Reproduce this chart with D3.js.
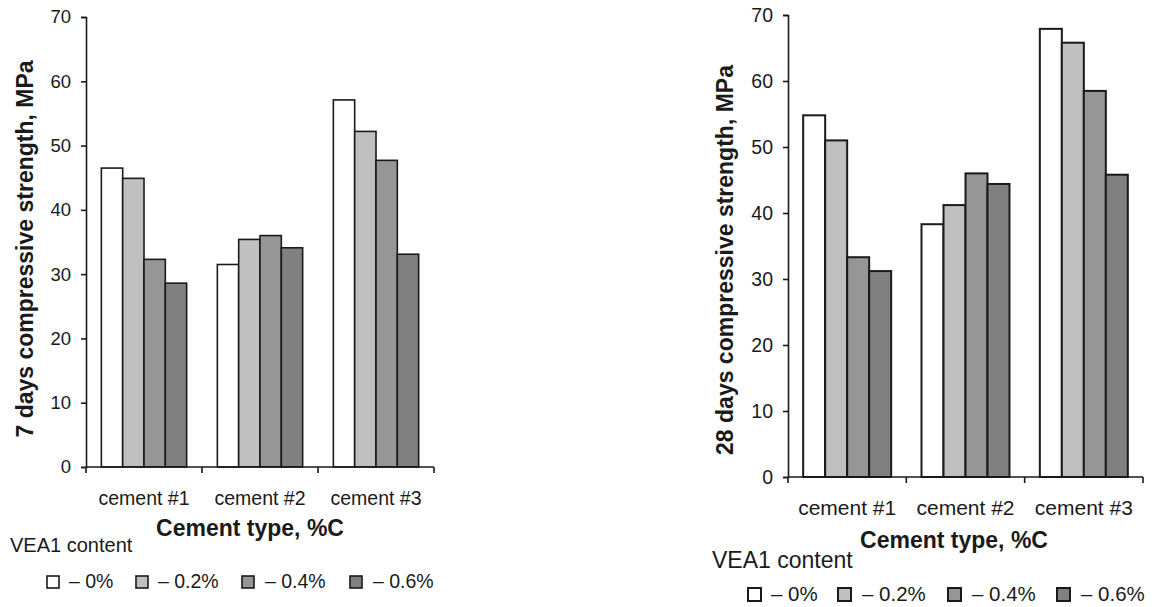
<html>
<head>
<meta charset="utf-8" />
<title>Compressive strength</title>
<script src="https://cdn.jsdelivr.net/npm/d3@7"></script>
<style>
body { margin: 0; background: #fff; }
text { font-family: "Liberation Sans", Arial, sans-serif; fill: #1a1a1a; }
</style>
</head>
<body>
<script>

var categories = ["cement #1", "cement #2", "cement #3"];
var series = ["0%", "0.2%", "0.4%", "0.6%"];
var legendLabels = ["\u2013 0%", "\u2013 0.2%", "\u2013 0.4%", "\u2013 0.6%"];
var fills = ["#ffffff", "#c0c0c0", "#969696", "#808080"];
var yTicks = [0, 10, 20, 30, 40, 50, 60, 70];

// rows = cement, columns = VEA1 content
var strength7 = [
	[46.5, 44.9, 32.3, 28.6],
	[31.5, 35.4, 36.0, 34.1],
	[57.1, 52.2, 47.7, 33.1]
];
var strength28 = [
	[54.8, 51.0, 33.3, 31.2],
	[38.3, 41.2, 46.0, 44.4],
	[67.9, 65.8, 58.5, 45.8]
];

var svg = d3.select("body").append("svg")
	.attr("width", 1152)
	.attr("height", 607);

function drawChart(opt, data) {
	var g = svg.append("g");

	var x0 = d3.scaleBand().domain(categories).range([opt.left, opt.right]);
	var x1 = d3.scaleBand().domain(series).range([0, x0.bandwidth()]).paddingOuter(opt.pad);
	var y = d3.scaleLinear().domain([0, 70]).range([opt.bottom, opt.top]);

	// bars
	categories.forEach(function(c, ci) {
		g.selectAll(null)
			.data(series)
			.enter().append("rect")
			.attr("x", function(s) { return x0(c) + x1(s); })
			.attr("y", function(s, si) { return y(data[ci][si]); })
			.attr("width", x1.bandwidth())
			.attr("height", function(s, si) { return y(0) - y(data[ci][si]); })
			.attr("fill", function(s, si) { return fills[si]; })
			.attr("stroke", "#1a1a1a")
			.attr("stroke-width", opt.sw);
	});

	// y axis
	var yAxis = g.append("g")
		.attr("transform", "translate(" + opt.left + ",0)")
		.call(d3.axisLeft(y).tickValues(yTicks).tickSize(5).tickPadding(10));
	yAxis.select(".domain").attr("stroke", "#1a1a1a").attr("stroke-width", 1.6);
	yAxis.selectAll(".tick line").attr("stroke", "#1a1a1a").attr("stroke-width", 1.6);
	yAxis.selectAll("text")
		.attr("font-family", "Liberation Sans, Arial, sans-serif")
		.attr("font-size", opt.tickFs)
		.attr("fill", "#1a1a1a");

	// x axis with ticks between categories
	var xAxisG = g.append("g");
	xAxisG.append("line")
		.attr("x1", opt.left).attr("x2", opt.right)
		.attr("y1", y(0)).attr("y2", y(0))
		.attr("stroke", "#1a1a1a").attr("stroke-width", 1.6);
	var bounds = categories.map(function(c) { return x0(c); }).concat([opt.right]);
	xAxisG.selectAll(null).data(bounds).enter().append("line")
		.attr("x1", function(d) { return d; }).attr("x2", function(d) { return d; })
		.attr("y1", y(0)).attr("y2", y(0) + 6)
		.attr("stroke", "#1a1a1a").attr("stroke-width", 1.6);
	xAxisG.selectAll(null).data(categories).enter().append("text")
		.attr("x", function(c) { return x0(c) + x0.bandwidth() / 2; })
		.attr("y", opt.catY)
		.attr("text-anchor", "middle")
		.attr("font-size", opt.catFs)
		.text(function(c) { return c; });

	// axis titles
	g.append("text")
		.attr("x", opt.xTitleX)
		.attr("y", opt.xTitleY)
		.attr("text-anchor", "middle")
		.attr("font-weight", "bold")
		.attr("font-size", 23)
		.text("Cement type, %C");

	g.append("text")
		.attr("transform", "translate(" + opt.yTitleX + "," + opt.yTitleY + ") rotate(-90)")
		.attr("text-anchor", "middle")
		.attr("font-weight", "bold")
		.attr("font-size", 23)
		.text(opt.yTitle);

	// legend
	g.append("text")
		.attr("x", opt.vea.x)
		.attr("y", opt.vea.y)
		.attr("font-size", opt.vea.fs)
		.text("VEA1 content");

	series.forEach(function(s, i) {
		g.append("rect")
			.attr("x", opt.leg.boxX[i])
			.attr("y", opt.leg.y - opt.leg.box)
			.attr("width", opt.leg.box)
			.attr("height", opt.leg.box)
			.attr("fill", fills[i])
			.attr("stroke", "#1a1a1a")
			.attr("stroke-width", opt.sw);
		g.append("text")
			.attr("x", opt.leg.textX[i])
			.attr("y", opt.leg.y)
			.attr("font-size", opt.leg.fs)
			.text(legendLabels[i]);
	});
}

drawChart({
	left: 86, right: 434, top: 17, bottom: 467, pad: 0.72, sw: 1.6,
	tickFs: 18.5, catFs: 19.5, catY: 505,
	xTitleX: 250, xTitleY: 536,
	yTitleX: 33, yTitleY: 249, yTitle: "7 days compressive strength, MPa",
	vea: {x: 10, y: 552, fs: 20},
	leg: {y: 588, box: 12, fs: 19.5, boxX: [47, 136, 242, 350], textX: [69, 158, 265, 373]}
}, strength7);

drawChart({
	left: 788, right: 1143, top: 15, bottom: 477, pad: 0.69, sw: 2,
	tickFs: 19.5, catFs: 21, catY: 515,
	xTitleX: 954, xTitleY: 548,
	yTitleX: 733, yTitleY: 260, yTitle: "28 days compressive strength, MPa",
	vea: {x: 712, y: 568, fs: 23},
	leg: {y: 601, box: 13, fs: 20.5, boxX: [748, 838, 948, 1057], textX: [771, 862, 972, 1081]}
}, strength28);

</script>
</body>
</html>
